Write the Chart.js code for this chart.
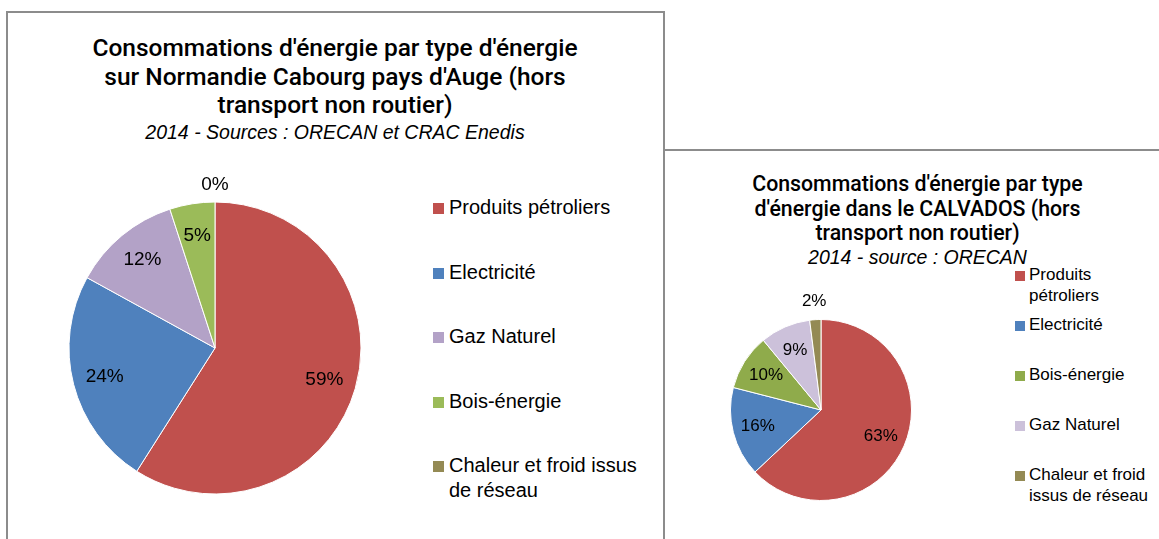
<!DOCTYPE html>
<html>
<head>
<meta charset="utf-8">
<script src="https://cdn.jsdelivr.net/npm/chart.js@4/dist/chart.umd.min.js"></script>
<style>
body { margin: 0; width: 1159px; height: 539px; overflow: hidden; position: relative; background: #fff; font-family: "Liberation Sans", Arial, sans-serif; color: #000; }
.box { position: absolute; border: 2px solid #8c8c8c; background: #fff; box-sizing: border-box; }
.title { position: absolute; text-align: center; font-family: Roboto, "Liberation Sans", sans-serif; font-weight: 500; }
.sub { font-family: "Liberation Sans", Arial, sans-serif; font-style: italic; font-weight: 400; }
canvas { position: absolute; }
.legend { position: absolute; }
.legend ul { list-style: none; margin: 0; padding: 0; }
.legend li { display: flex; align-items: flex-start; }
.legend .sw { flex: none; }
</style>
</head>
<body>
<div class="box" style="left:6px;top:11px;width:659px;height:560px;"></div>
<div class="box" style="left:663px;top:149px;width:520px;height:420px;"></div>

<div class="title" style="left:7px;top:34px;width:656px;font-size:24.5px;line-height:28.5px;">
Consommations d'énergie par type d'énergie<br>sur Normandie Cabourg pays d'Auge (hors<br>transport non routier)
<div class="sub" style="font-size:19.5px;line-height:25px;">2014 - Sources : ORECAN et CRAC Enedis</div>
</div>

<div class="title" style="left:663px;top:172px;width:509px;font-size:21.3px;line-height:24.5px;">
Consommations d'énergie par type<br>d'énergie dans le CALVADOS (hors<br>transport non routier)
<div class="sub" style="font-size:19.5px;line-height:22px;">2014 - source : ORECAN</div>
</div>

<canvas id="pieLeft" width="400" height="400" style="left:15px;top:148px;"></canvas>
<canvas id="pieRight" width="240" height="240" style="left:701px;top:290px;"></canvas>

<div class="legend" id="legendLeft" style="left:433px;top:195px;"></div>
<div class="legend" id="legendRight" style="left:1015px;top:264px;"></div>

<script>
// Normandie Cabourg pays d'Auge
const labelsLeft = ["Produits pétroliers", "Electricité", "Gaz Naturel", "Bois-énergie", "Chaleur et froid issus de réseau"];
const valuesLeft = [59, 24, 12, 5, 0];
const colorsLeft = ["#c0504d", "#4f81bd", "#b3a2c7", "#9bbb59", "#948a54"];

// Calvados
const labelsRight = ["Produits pétroliers", "Electricité", "Bois-énergie", "Gaz Naturel", "Chaleur et froid issus de réseau"];
const valuesRight = [63, 16, 10, 9, 2];
const colorsRight = ["#c0504d", "#4f81bd", "#8fab4b", "#ccc1da", "#948a54"];

// percentage labels inside slices, small ones outside
const pctLabels = {
	id: "pctLabels",
	afterDatasetsDraw(chart, args, opts) {
		const ctx = chart.ctx;
		const data = chart.data.datasets[0].data;
		const meta = chart.getDatasetMeta(0);
		ctx.save();
		ctx.font = opts.font;
		ctx.fillStyle = "#000";
		ctx.textAlign = "center";
		ctx.textBaseline = "middle";
		meta.data.forEach((arc, i) => {
			const p = arc.getProps(["x", "y", "startAngle", "endAngle", "outerRadius"], true);
			const mid = (p.startAngle + p.endAngle) / 2;
			const r = data[i] < 3 ? p.outerRadius + opts.outside : p.outerRadius * opts.inside;
			ctx.fillText(data[i] + "%", p.x + Math.cos(mid) * r, p.y + Math.sin(mid) * r);
		});
		ctx.restore();
	},
};

const getOrCreateLegendList = (id) => {
	const legendContainer = document.getElementById(id);
	let listContainer = legendContainer.querySelector("ul");
	if (!listContainer) {
		listContainer = document.createElement("ul");
		legendContainer.appendChild(listContainer);
	}
	return listContainer;
};

const htmlLegend = {
	id: "htmlLegend",
	afterUpdate(chart, args, opts) {
		const ul = getOrCreateLegendList(opts.containerID);
		while (ul.firstChild) ul.firstChild.remove();
		const ds = chart.data.datasets[0];
		chart.data.labels.forEach((label, i) => {
			const li = document.createElement("li");
			li.style.height = opts.rowHeight + "px";
			const sw = document.createElement("span");
			sw.className = "sw";
			sw.style.background = ds.backgroundColor[i];
			sw.style.width = opts.box + "px";
			sw.style.height = opts.box + "px";
			sw.style.marginTop = opts.boxTop + "px";
			sw.style.marginRight = opts.gap + "px";
			const text = document.createElement("span");
			text.textContent = label;
			text.style.fontSize = opts.fontSize + "px";
			text.style.lineHeight = opts.lineHeight + "px";
			text.style.width = opts.textWidth + "px";
			li.appendChild(sw);
			li.appendChild(text);
			ul.appendChild(li);
		});
	},
};

function makePie(canvasId, labels, values, colors, radius, labelOpts, legendOpts) {
	return new Chart(document.getElementById(canvasId), {
		type: "pie",
		data: {
			labels: labels,
			datasets: [{
				data: values,
				backgroundColor: colors,
				borderColor: "#ffffff",
				borderWidth: 1,
				radius: radius,
			}],
		},
		options: {
			responsive: false,
			animation: false,
			layout: { padding: 0 },
			plugins: {
				legend: { display: false },
				tooltip: { enabled: false },
				pctLabels: labelOpts,
				htmlLegend: legendOpts,
			},
		},
		plugins: [pctLabels, htmlLegend],
	});
}

makePie("pieLeft", labelsLeft, valuesLeft, colorsLeft, 146,
	{ font: "19px 'Liberation Sans', Arial, sans-serif", inside: 0.78, outside: 17 },
	{ containerID: "legendLeft", rowHeight: 64.5, box: 11, boxTop: 8, gap: 5, fontSize: 20, lineHeight: 25, textWidth: 205 });

makePie("pieRight", labelsRight, valuesRight, colorsRight, 90.5,
	{ font: "17px 'Liberation Sans', Arial, sans-serif", inside: 0.72, outside: 18 },
	{ containerID: "legendRight", rowHeight: 50, box: 10, boxTop: 7, gap: 4, fontSize: 17, lineHeight: 21, textWidth: 130 });
</script>
</body>
</html>
